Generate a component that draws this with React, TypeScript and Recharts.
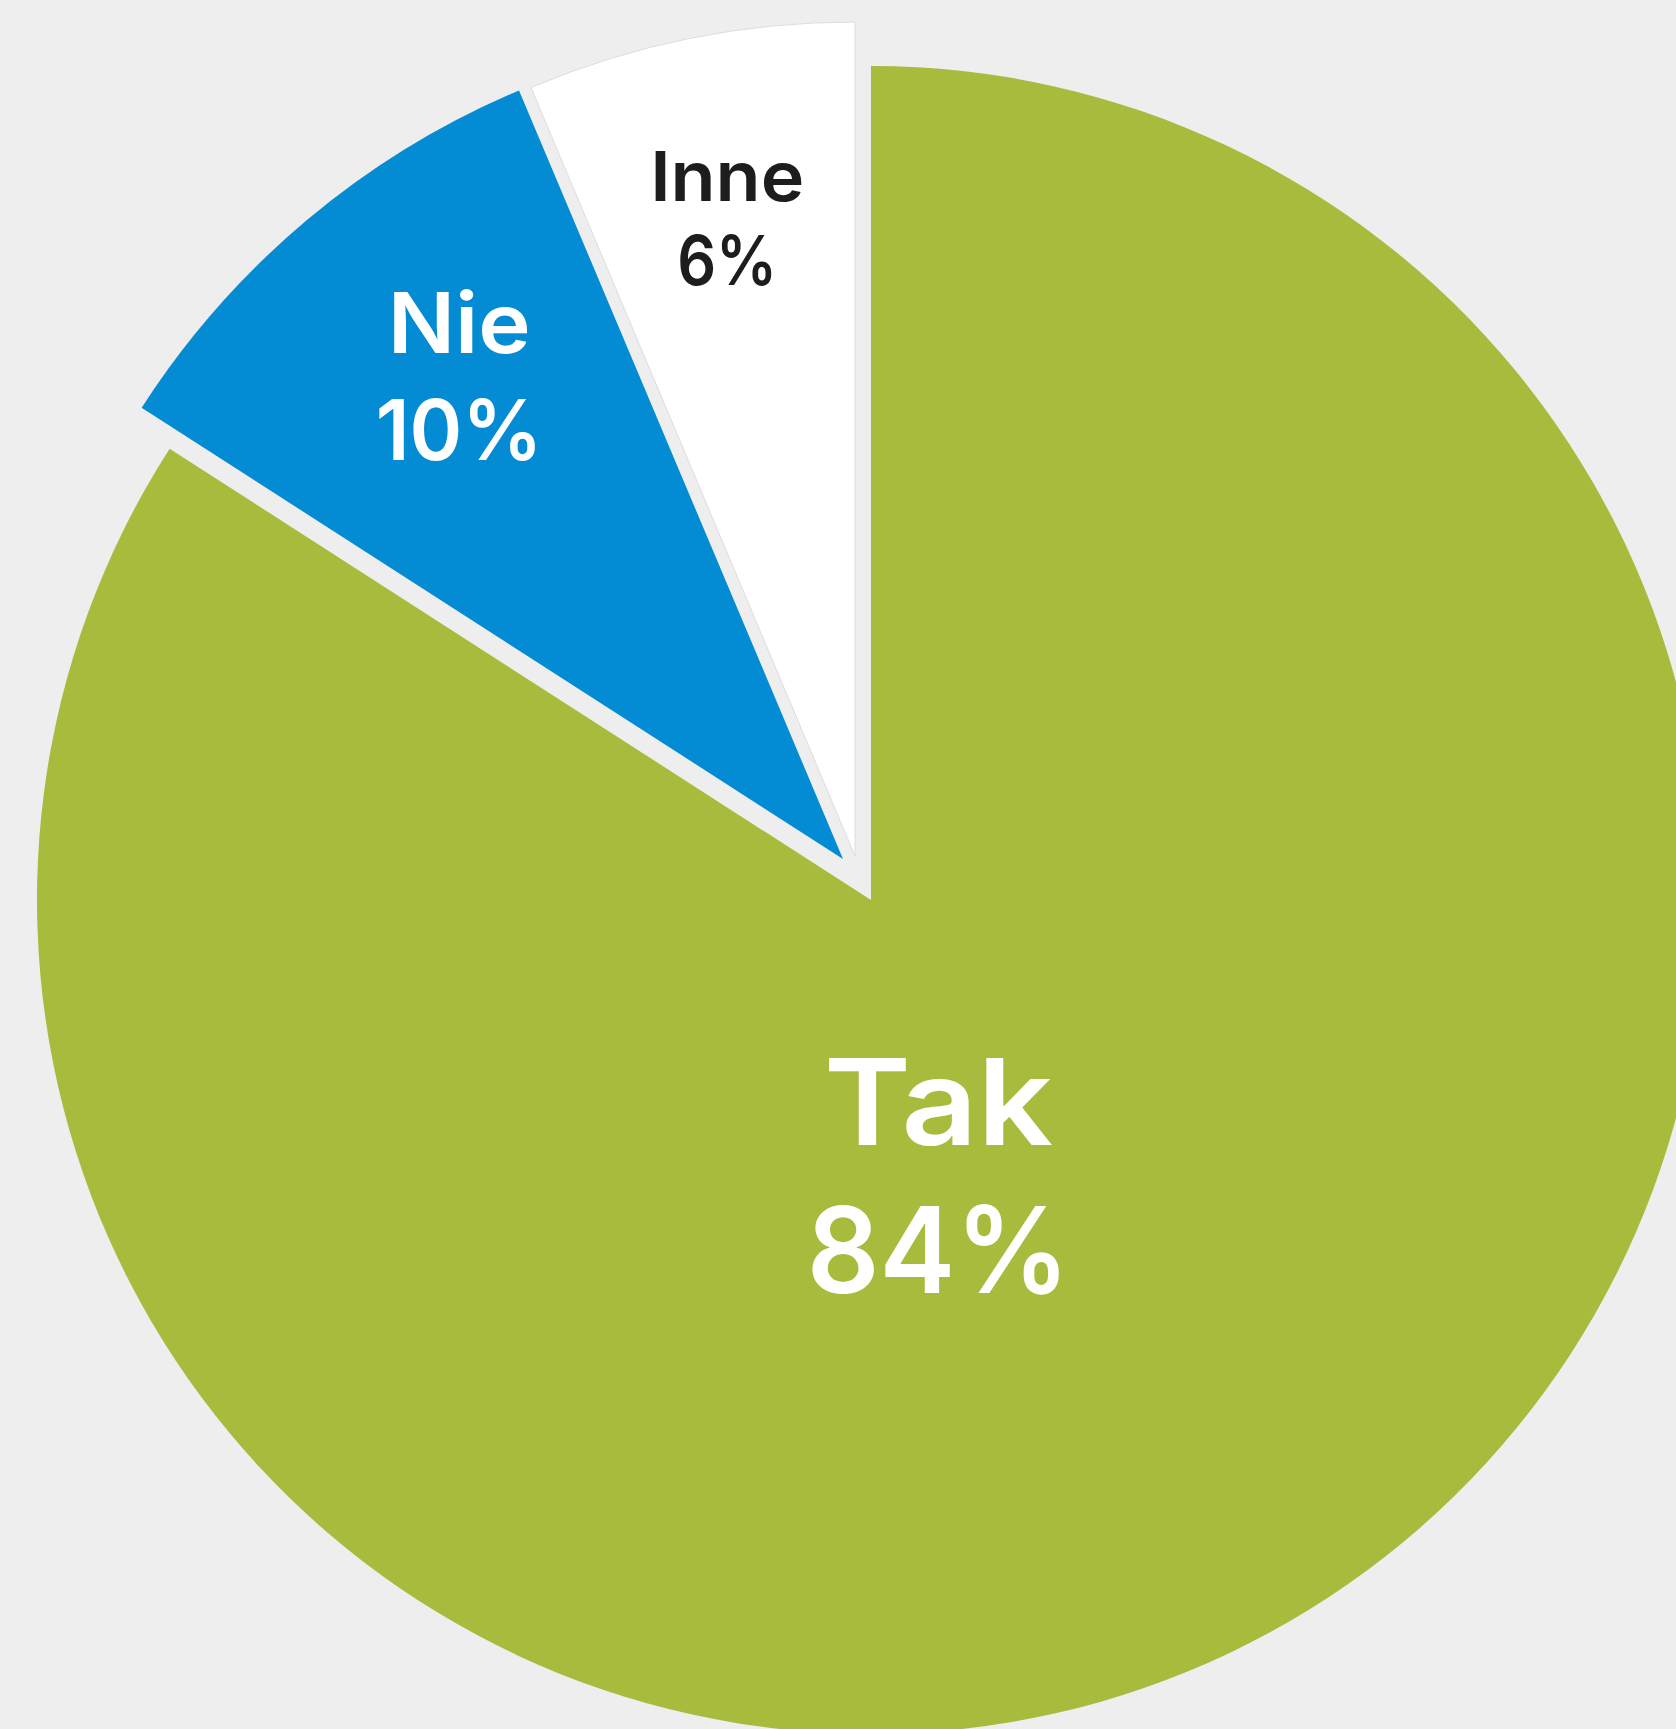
import React from 'react';
import { PieChart, Pie, Cell, Sector } from 'recharts';

// ---- data ----
const categories: string[] = ['Tak', 'Nie', 'Inne'];
const values: number[] = [84.1, 9.55, 6.35];
const percentLabels: string[] = ['84%', '10%', '6%'];

// ---- styling (kept separate from data) ----
const fillColors: Record<string, string> = { Tak: '#a9bb3d', Nie: '#038bd3', Inne: '#ffffff' };
const textColors: Record<string, string> = { Tak: '#ffffff', Nie: '#ffffff', Inne: '#1d1d1b' };
const explode: Record<string, [number, number]> = { Tak: [0, 0], Nie: [-28, -41], Inne: [-16, -44] };
const labelStyle: Record<string, { fs: number; gap: number; ratio: number; shift: number; w1: number; w2: number }> = {
  Tak: { fs: 120, gap: 148, ratio: 0.34, shift: -14.9, w1: 229, w2: 263 },
  Nie: { fs: 84, gap: 107, ratio: 0.74, shift: -1.6, w1: 143, w2: 167 },
  Inne: { fs: 69, gap: 84, ratio: 0.78, shift: -0.1, w1: 154, w2: 100 },
};

const chartData = categories.map((name, i) => ({ name, value: values[i], pct: percentLabels[i] }));

const FONT = 'Inter, "Open Sans", sans-serif';
const CAP = 0.727;
const RAD = Math.PI / 180;

const renderShape = (props: any) => {
  const name = props?.payload?.name ?? props.name;
  const [dx, dy] = explode[name] || [0, 0];
  return (
    <Sector
      cx={props.cx + dx}
      cy={props.cy + dy}
      innerRadius={props.innerRadius}
      outerRadius={props.outerRadius}
      startAngle={props.startAngle}
      endAngle={props.endAngle}
      fill={props.fill}
      stroke={name === 'Inne' ? '#dddddd' : 'none'}
      strokeWidth={name === 'Inne' ? 1 : 0}
    />
  );
};

const renderLabel = (props: any) => {
  const { cx, cy, midAngle, outerRadius, index } = props;
  const name = categories[index];
  const [dx, dy] = explode[name];
  const st = labelStyle[name];
  const ang = (midAngle + st.shift) * RAD;
  const x = cx + dx + outerRadius * st.ratio * Math.cos(ang);
  const yc = cy + dy - outerRadius * st.ratio * Math.sin(ang);
  const cap = st.fs * CAP;
  const y1 = yc + (cap - st.gap) / 2;
  return (
    <text
      key={`lbl-${index}`}
      textAnchor="middle"
      fill={textColors[name]}
      fontFamily={FONT}
      fontWeight={600}
      fontSize={st.fs}
    >
      <tspan x={x} y={y1} textLength={st.w1} lengthAdjust="spacingAndGlyphs">
        {name}
      </tspan>
      <tspan x={x} y={y1 + st.gap} textLength={st.w2} lengthAdjust="spacingAndGlyphs">
        {percentLabels[index]}
      </tspan>
    </text>
  );
};

export default function App() {
  return (
    <div
      style={{
        position: 'absolute',
        left: 0,
        top: 0,
        width: 1676,
        height: 1729,
        background: '#eeeeee',
        overflow: 'hidden',
      }}
    >
      <PieChart width={1676} height={1729} margin={{ top: 0, right: 0, bottom: 0, left: 0 }}>
        <Pie
          data={chartData}
          dataKey="value"
          nameKey="name"
          cx={871}
          cy={900}
          innerRadius={0}
          outerRadius={834}
          startAngle={90}
          endAngle={-270}
          paddingAngle={0}
          stroke="none"
          shape={renderShape}
          label={renderLabel}
          labelLine={false}
          isAnimationActive={false}
        >
          {chartData.map((d) => (
            <Cell key={d.name} fill={fillColors[d.name]} />
          ))}
        </Pie>
      </PieChart>
    </div>
  );
}
